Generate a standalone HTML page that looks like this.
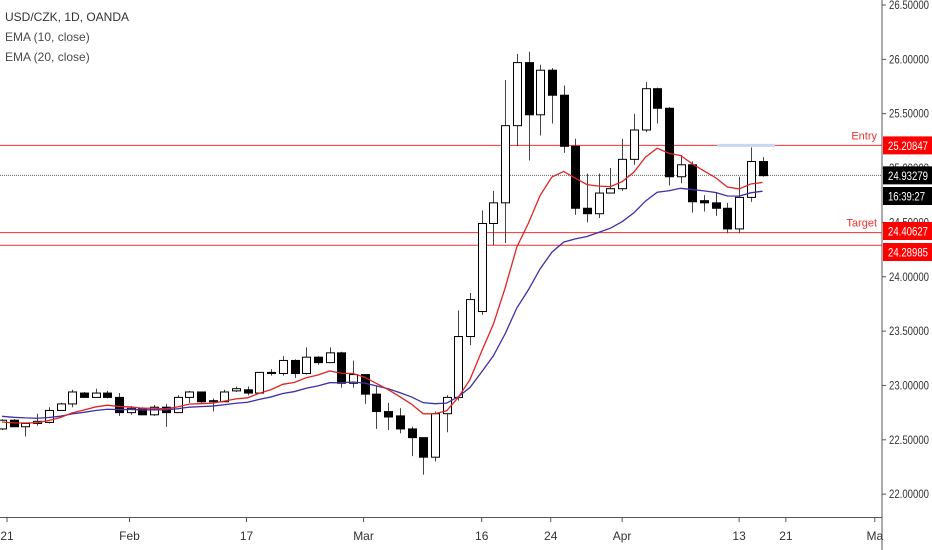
<!DOCTYPE html>
<html><head><meta charset="utf-8">
<style>
body{margin:0;background:#fff;font-family:"Liberation Sans",sans-serif;}
#wrap{position:relative;width:932px;height:550px;overflow:hidden;}
.leg{position:absolute;left:5px;font-size:12px;color:#4a4a4a;}
</style></head><body>
<div id="wrap">
<svg id="chart" width="932" height="550"></svg>
<div class="leg" style="top:10px;color:#333">USD/CZK, 1D, OANDA</div>
<div class="leg" style="top:30px">EMA (10, close)</div>
<div class="leg" style="top:50px">EMA (20, close)</div>
</div>
<script>
const opens =[22.60,22.68,22.62,22.65,22.66,22.77,22.83,22.93,22.89,22.93,22.89,22.75,22.79,22.73,22.80,22.75,22.89,22.94,22.85,22.85,22.95,22.96,22.93,23.12,23.11,23.23,23.11,23.26,23.21,23.30,23.02,23.10,22.92,22.76,22.72,22.60,22.52,22.34,22.74,22.89,23.45,23.68,24.49,24.68,25.39,25.97,25.49,25.90,25.67,25.20,24.63,24.58,24.77,24.81,25.08,25.35,25.73,25.55,24.92,25.03,24.70,24.68,24.63,24.44,24.73,25.06];
const highs =[22.69,22.69,22.65,22.74,22.80,22.84,22.96,22.94,22.97,22.95,22.93,22.81,22.80,22.82,22.83,22.91,22.95,22.94,22.88,22.96,22.99,22.99,23.12,23.15,23.27,23.24,23.35,23.27,23.35,23.31,23.23,23.10,22.99,22.84,22.79,22.62,22.52,22.76,22.91,23.69,23.85,24.61,24.79,25.81,26.05,26.07,25.95,25.92,25.76,25.27,24.95,24.95,25.00,25.27,25.50,25.79,25.74,25.56,25.12,25.06,24.75,24.78,24.68,24.92,25.19,25.10];
const lows  =[22.59,22.62,22.53,22.63,22.65,22.77,22.80,22.89,22.89,22.88,22.72,22.73,22.73,22.72,22.62,22.75,22.84,22.84,22.76,22.85,22.94,22.91,22.92,23.09,23.09,23.07,23.10,23.19,23.21,22.98,22.98,22.83,22.60,22.59,22.56,22.35,22.18,22.30,22.57,22.86,23.37,23.65,24.29,24.31,25.20,25.07,25.30,25.41,25.14,24.57,24.50,24.54,24.77,24.79,25.03,25.33,25.41,24.84,24.86,24.59,24.60,24.56,24.40,24.40,24.69,24.92];
const closes=[22.68,22.62,22.65,22.67,22.77,22.83,22.94,22.89,22.93,22.89,22.75,22.79,22.73,22.80,22.75,22.89,22.94,22.85,22.86,22.94,22.97,22.93,23.12,23.11,23.23,23.11,23.26,23.21,23.30,23.02,23.10,22.92,22.76,22.71,22.60,22.52,22.34,22.74,22.89,23.45,23.79,24.49,24.68,25.39,25.97,25.49,25.90,25.67,25.20,24.63,24.58,24.77,24.81,25.08,25.35,25.73,25.55,24.92,25.03,24.69,24.68,24.63,24.44,24.73,25.06,24.93];
const yTicks=[26.5,26.0,25.5,25.0,24.5,24.0,23.5,23.0,22.5,22.0];
const xTickLabels=["21","Feb","17","Mar","16","24","Apr","13","21","Ma"];
const xTickIdx=[0.43,10.9,20.9,30.9,41,46.9,53,63,67,74.6];
const levelPrices=[25.20847,24.93279,24.40627,24.28985];
const ema10Seed=22.66, ema20Seed=22.72;

const NS="http://www.w3.org/2000/svg";
const svg=document.getElementById('chart');
const PLOT_R=882;
function y(p){return 5+(26.5-p)*108.7;}
function x(i){return 2+i*11.7;}
function mk(t,a,parent){const e=document.createElementNS(NS,t);for(const k in a)e.setAttribute(k,a[k]);(parent||svg).appendChild(e);return e;}

let ax=mk('line',{x1:PLOT_R,y1:0,x2:PLOT_R,y2:550,stroke:'#555','stroke-width':1});


let bx=mk('line',{x1:0,y1:517.5,x2:PLOT_R,y2:517.5,stroke:'#555','stroke-width':1});



yTicks.forEach(v=>{
  const t=mk('text',{x:889,y:y(v)+4,'font-size':12,fill:'#333','font-family':'Liberation Sans, sans-serif',textLength:40,lengthAdjust:'spacingAndGlyphs'});
  t.textContent=v.toFixed(5);
  
  
  mk('line',{x1:PLOT_R,y1:y(v),x2:PLOT_R+4,y2:y(v),stroke:'#555'});
});
xTickLabels.forEach((l,k)=>{
  const xx=x(xTickIdx[k]);
  mk('line',{x1:xx,y1:517,x2:xx,y2:522,stroke:'#555'});
  const t=mk('text',{x:xx,y:540,'font-size':12,fill:'#333','text-anchor':'middle','font-family':'Liberation Sans, sans-serif'});
  t.textContent=l;
  
  
});

const le=mk('line',{x1:0,y1:y(levelPrices[0]),x2:PLOT_R,y2:y(levelPrices[0]),stroke:'#f23030'});


mk('rect',{x:717,y:y(levelPrices[0])-1.5,width:58,height:3,fill:'#c8d8f0'});
const lc=mk('line',{x1:0,y1:y(levelPrices[1]),x2:PLOT_R,y2:y(levelPrices[1]),stroke:'#666','stroke-dasharray':'1,1'});


[2,3].forEach(k=>{
  const l=mk('line',{x1:0,y1:y(levelPrices[k]),x2:PLOT_R,y2:y(levelPrices[k]),stroke:'#f23030'});
  
  
});
let te=mk('text',{x:877,y:y(levelPrices[0])-6,'font-size':11,fill:'#f23030','text-anchor':'end','font-family':'Liberation Sans, sans-serif'});
te.textContent='Entry';


let tt=mk('text',{x:877,y:y(levelPrices[2])-6,'font-size':11,fill:'#f23030','text-anchor':'end','font-family':'Liberation Sans, sans-serif'});
tt.textContent='Target';



for(let i=0;i<opens.length;i++){
  const g=mk('g',{});
  
  
  const cx=Math.round(x(i))+0.5;
  mk('line',{x1:cx,y1:y(highs[i]),x2:cx,y2:y(lows[i]),stroke:'#444'},g);
  const up=closes[i]>=opens[i];
  const top=y(Math.max(opens[i],closes[i])),bot=y(Math.min(opens[i],closes[i]));
  mk('rect',{x:cx-4,y:top,width:8,height:Math.max(1,bot-top),fill:up?'#fff':'#000',stroke:'#000','stroke-width':1},g);
}

function ema(n,seed){const k=2/(n+1);let e=seed;return closes.map(c=>(e=c*k+e*(1-k)));}
function drawLine(arr,col,name){
  const p=mk('path',{d:arr.map((v,i)=>(i?'L':'M')+x(i)+','+y(v)).join(''),fill:'none',stroke:col,'stroke-width':1.3});
  
  
}
drawLine(ema(20,ema20Seed),'#3f2fa8','ema20-line');
drawLine(ema(10,ema10Seed),'#e02424','ema10-line');

function tag(p,txt,bg,name,yy,w){
  const g=mk('g',{});
  
  
  const cy=yy===undefined?y(p):yy;
  mk('rect',{x:PLOT_R+1,y:cy-9,width:50,height:18,fill:bg},g);
  const t=mk('text',{x:888,y:cy+4.5,'font-size':12,fill:'#fff','font-family':'Liberation Sans, sans-serif',textLength:w||40,lengthAdjust:'spacingAndGlyphs'},g);
  t.textContent=txt;
}
tag(levelPrices[0],levelPrices[0].toFixed(5),'#ff0000','entry-price-tag');
tag(levelPrices[1],levelPrices[1].toFixed(5),'#000','current-price-tag');
tag(null,'16:39:27','#000','countdown-tag',196,37);
tag(levelPrices[2],levelPrices[2].toFixed(5),'#ff0000','target-price-tag',231);
tag(levelPrices[3],levelPrices[3].toFixed(5),'#ff0000','stop-price-tag',252);
</script>
</body></html>
